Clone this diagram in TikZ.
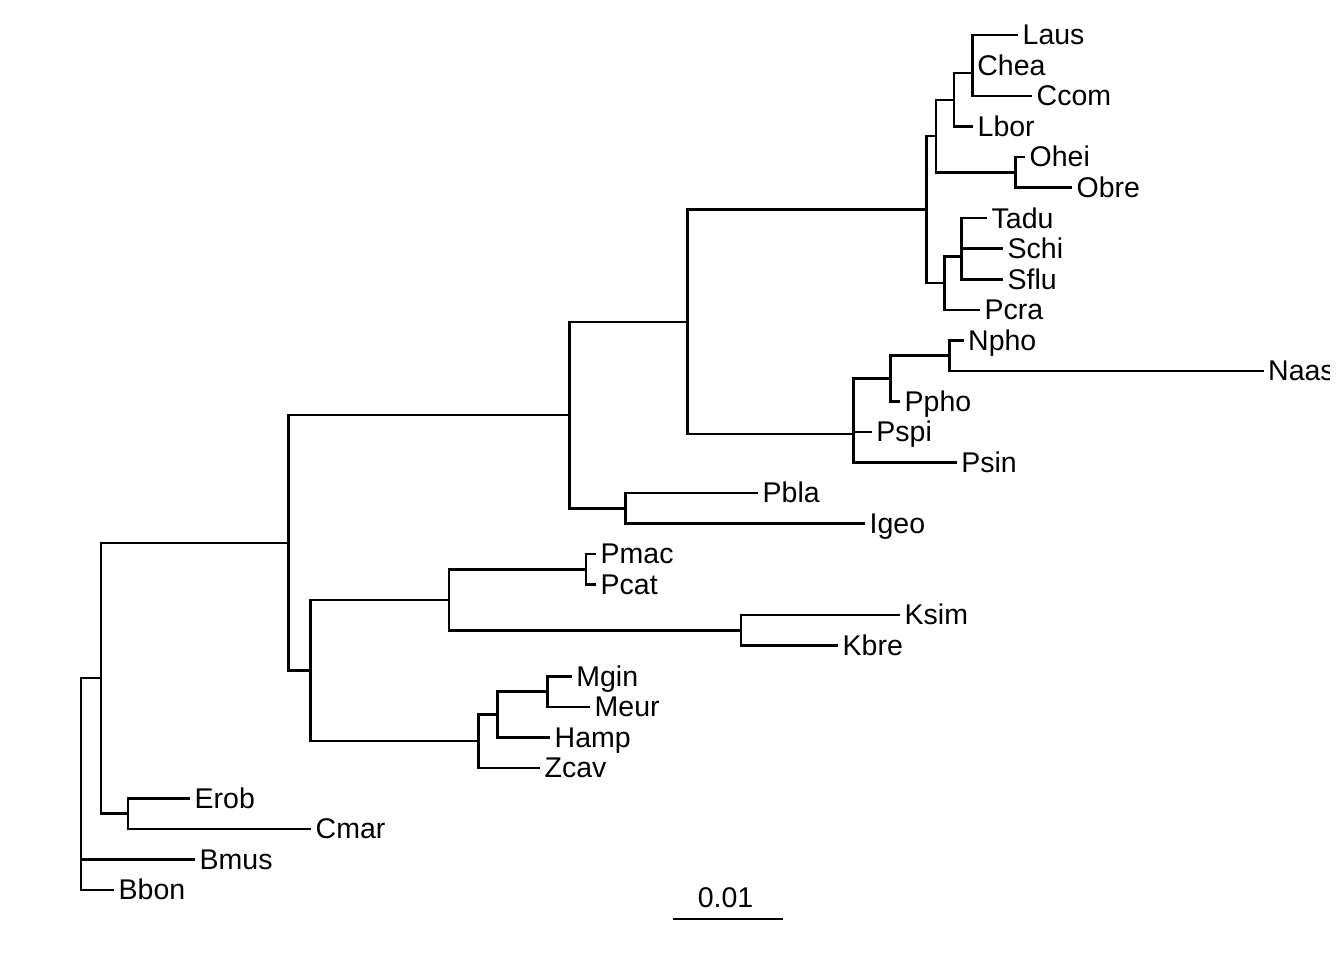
\documentclass[tikz,border=0pt]{standalone}
\usepackage{fontspec}
\setmainfont{Liberation Sans}
\begin{document}
\begin{tikzpicture}[x=1pt,y=-1pt,
  br/.style={line width=2.5pt, line join=miter},
  lab/.style={anchor=base west, inner sep=0pt, xshift=4.5pt, yshift=-9.8pt, font=\fontsize{28.5}{30}\selectfont}]
\fill[white] (0,0) rectangle (1344,960);
\useasboundingbox (0,0) rectangle (1344,960);
% tips
\coordinate (tLaus) at (1018,35.00);
\coordinate (tChea) at (972.7,65.54);
\coordinate (tCcom) at (1032,96.07);
\coordinate (tLbor) at (973,126.61);
\coordinate (tOhei) at (1025,157.14);
\coordinate (tObre) at (1072,187.68);
\coordinate (tTadu) at (987,218.21);
\coordinate (tSchi) at (1003,248.75);
\coordinate (tSflu) at (1003,279.29);
\coordinate (tPcra) at (980,309.82);
\coordinate (tNpho) at (963.5,340.36);
\coordinate (tNaas) at (1263.5,370.89);
\coordinate (tPpho) at (900,401.43);
\coordinate (tPspi) at (871.7,431.96);
\coordinate (tPsin) at (956.7,462.50);
\coordinate (tPbla) at (758,493.04);
\coordinate (tIgeo) at (865,523.57);
\coordinate (tPmac) at (596,554.11);
\coordinate (tPcat) at (596,584.64);
\coordinate (tKsim) at (900,615.18);
\coordinate (tKbre) at (838,645.71);
\coordinate (tMgin) at (571.7,676.25);
\coordinate (tMeur) at (590,706.79);
\coordinate (tHamp) at (550,737.32);
\coordinate (tZcav) at (540,767.86);
\coordinate (tErob) at (190,798.39);
\coordinate (tCmar) at (311,828.93);
\coordinate (tBmus) at (195,859.46);
\coordinate (tBbon) at (114,890.00);
% internal nodes
\coordinate (a1) at (972.7,50.27);
\coordinate (a2) at (972.7,73.17);
\coordinate (a3) at (954,99.89);
\coordinate (aO) at (1015.7,172.41);
\coordinate (a4) at (936,136.15);
\coordinate (s1) at (961.7,233.48);
\coordinate (s2) at (961.7,256.38);
\coordinate (s3) at (944.3,283.10);
\coordinate (nI) at (926.7,209.63);
\coordinate (nL) at (949.3,355.63);
\coordinate (nK) at (890.7,378.53);
\coordinate (nJa) at (853.3,405.25);
\coordinate (nJ) at (853.3,433.88);
\coordinate (nH) at (687.5,321.76);
\coordinate (nPI) at (625.5,508.31);
\coordinate (nC) at (569.5,415.03);
\coordinate (nPP) at (586,569.38);
\coordinate (nKK) at (741,630.45);
\coordinate (nE) at (449,599.91);
\coordinate (nMM) at (547.3,691.52);
\coordinate (nG) at (497.3,714.42);
\coordinate (nF) at (478.3,741.14);
\coordinate (nD) at (310.5,670.53);
\coordinate (nB) at (288.5,542.78);
\coordinate (nEC) at (128,813.66);
\coordinate (nA) at (101,678.22);
\coordinate (root) at (81,809.23);
% branches
\draw[br] (a1) |- (tLaus);
\draw[br] (a1) |- (tChea);
\draw[br] (a2) |- (a1);
\draw[br] (a2) |- (tCcom);
\draw[br] (a3) |- (a2);
\draw[br] (a3) |- (tLbor);
\draw[br] (aO) |- (tOhei);
\draw[br] (aO) |- (tObre);
\draw[br] (a4) |- (a3);
\draw[br] (a4) |- (aO);
\draw[br] (s1) |- (tTadu);
\draw[br] (s1) |- (tSchi);
\draw[br] (s2) |- (s1);
\draw[br] (s2) |- (tSflu);
\draw[br] (s3) |- (s2);
\draw[br] (s3) |- (tPcra);
\draw[br] (nI) |- (a4);
\draw[br] (nI) |- (s3);
\draw[br] (nL) |- (tNpho);
\draw[br] (nL) |- (tNaas);
\draw[br] (nK) |- (nL);
\draw[br] (nK) |- (tPpho);
\draw[br] (nJa) |- (nK);
\draw[br] (nJa) |- (tPspi);
\draw[br] (nJ) |- (nJa);
\draw[br] (nJ) |- (tPsin);
\draw[br] (nH) |- (nI);
\draw[br] (nH) |- (nJ);
\draw[br] (nPI) |- (tPbla);
\draw[br] (nPI) |- (tIgeo);
\draw[br] (nC) |- (nH);
\draw[br] (nC) |- (nPI);
\draw[br] (nPP) |- (tPmac);
\draw[br] (nPP) |- (tPcat);
\draw[br] (nKK) |- (tKsim);
\draw[br] (nKK) |- (tKbre);
\draw[br] (nE) |- (nPP);
\draw[br] (nE) |- (nKK);
\draw[br] (nMM) |- (tMgin);
\draw[br] (nMM) |- (tMeur);
\draw[br] (nG) |- (nMM);
\draw[br] (nG) |- (tHamp);
\draw[br] (nF) |- (nG);
\draw[br] (nF) |- (tZcav);
\draw[br] (nD) |- (nE);
\draw[br] (nD) |- (nF);
\draw[br] (nB) |- (nC);
\draw[br] (nB) |- (nD);
\draw[br] (nEC) |- (tErob);
\draw[br] (nEC) |- (tCmar);
\draw[br] (nA) |- (nB);
\draw[br] (nA) |- (nEC);
\draw[br] (root) |- (nA);
\draw[br] (root) |- (tBmus);
\draw[br] (root) |- (tBbon);
% labels (clipped at the plot region edge, as in the reference)
\begin{scope}
\clip (0,0) rectangle (1329,960);
\foreach \t in {Laus,Chea,Ccom,Lbor,Ohei,Obre,Tadu,Schi,Sflu,Pcra,Npho,Naas,Ppho,Pspi,Psin,Pbla,Igeo,Pmac,Pcat,Ksim,Kbre,Mgin,Meur,Hamp,Zcav,Erob,Cmar,Bmus,Bbon}
  \node[lab] (\t) at (t\t) {\t};
\end{scope}
% scale bar
\coordinate (sbA) at (672.7,919);
\coordinate (sbB) at (783.3,919);
\draw[br] (sbA) -- (sbB);
\node[anchor=base, inner sep=0pt, font=\fontsize{28.5}{30}\selectfont] (sbl) at (725.5,907) {0.01};
\end{tikzpicture}
\end{document}
